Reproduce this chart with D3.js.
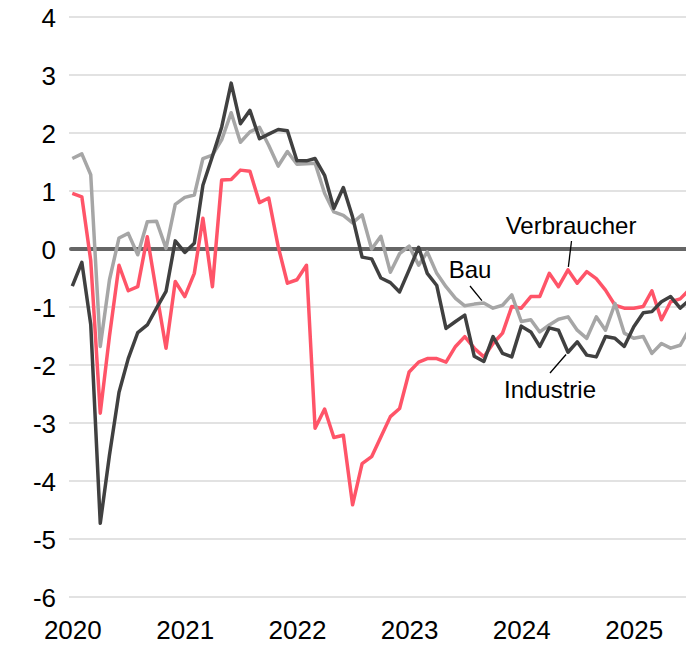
<!DOCTYPE html>
<html>
<head>
<meta charset="utf-8">
<script src="https://cdn.jsdelivr.net/npm/d3@7/dist/d3.min.js"></script>
<style>
  html, body { margin: 0; padding: 0; background: #fff; }
  svg { display: block; }
  text { font-family: "Liberation Sans", Arial, sans-serif; fill: #000; }
</style>
</head>
<body>
<svg id="chart" width="686" height="645"></svg>
<script>
// Monthly data, Jan 2020 – Jul 2025
const startMonth = "2020-01";
const yearTicks = [2020, 2021, 2022, 2023, 2024, 2025];
const yTicks = [-6, -5, -4, -3, -2, -1, 0, 1, 2, 3, 4];

const industrie = [
  -0.64, -0.23, -1.30, -4.73, -3.55, -2.47, -1.89, -1.44, -1.31, -1.02, -0.73, 0.14,
  -0.06, 0.10, 1.10, 1.60, 2.10, 2.86, 2.16, 2.39, 1.90, 1.98, 2.06, 2.04,
  1.52, 1.52, 1.56, 1.27, 0.70, 1.06, 0.55, -0.14, -0.17, -0.50, -0.58, -0.74,
  -0.36, 0.03, -0.42, -0.63, -1.37, -1.25, -1.14, -1.85, -1.94, -1.51, -1.80, -1.86,
  -1.33, -1.43, -1.68, -1.36, -1.40, -1.78, -1.60, -1.83, -1.86, -1.51, -1.54, -1.68,
  -1.34, -1.10, -1.08, -0.91, -0.82, -1.02, -0.88
];
const bau = [
  1.56, 1.64, 1.28, -1.68, -0.53, 0.19, 0.27, -0.10, 0.47, 0.48, 0.01, 0.77,
  0.89, 0.93, 1.56, 1.62, 1.88, 2.35, 1.84, 2.02, 2.10, 1.79, 1.43, 1.68,
  1.46, 1.47, 1.48, 0.96, 0.64, 0.58, 0.45, 0.59, 0.00, 0.22, -0.40, -0.08,
  0.05, -0.28, -0.05, -0.42, -0.65, -0.85, -0.98, -0.95, -0.93, -1.02, -0.97, -0.79,
  -1.25, -1.22, -1.43, -1.31, -1.21, -1.17, -1.40, -1.54, -1.17, -1.40, -0.94, -1.45,
  -1.54, -1.51, -1.80, -1.63, -1.71, -1.66, -1.38
];
const verbraucher = [
  0.96, 0.90, -0.20, -2.83, -1.50, -0.28, -0.72, -0.65, 0.21, -0.75, -1.71, -0.56,
  -0.82, -0.42, 0.53, -0.65, 1.19, 1.20, 1.36, 1.34, 0.80, 0.88, 0.04, -0.59,
  -0.53, -0.28, -3.09, -2.76, -3.25, -3.21, -4.41, -3.70, -3.58, -3.24, -2.89, -2.75,
  -2.12, -1.95, -1.89, -1.89, -1.95, -1.68, -1.51, -1.71, -1.86, -1.63, -1.45, -0.99,
  -1.02, -0.82, -0.82, -0.42, -0.65, -0.36, -0.59, -0.39, -0.51, -0.71, -0.97, -1.02,
  -1.02, -0.99, -0.72, -1.22, -0.91, -0.86, -0.70
];

const seriesNames = ["Verbraucher", "Bau", "Industrie"];
const seriesColors = { Industrie: "#404040", Bau: "#a6a6a6", Verbraucher: "#ff5468" };

const parse = d3.timeParse("%Y-%m");
const t0 = parse(startMonth);
const months = industrie.map((_, i) => d3.timeMonth.offset(t0, i));

const svg = d3.select("#chart");

const x = d3.scaleTime()
  .domain([t0, months[months.length - 1]])
  .range([72.3, 72.3 + 9.35 * (months.length - 1)]);
const y = d3.scaleLinear().domain([-6, 4]).range([597, 17]);

// gridlines
svg.append("g").selectAll("line").data(yTicks.filter(d => d !== 0)).join("line")
  .attr("x1", 69).attr("x2", 686)
  .attr("y1", d => y(d)).attr("y2", d => y(d))
  .attr("stroke", "#d9d9d9").attr("stroke-width", 1.5);

// y axis labels
const yAxis = d3.axisLeft(y).tickValues(yTicks).tickSize(0).tickPadding(0).tickFormat(d => String(d));
const gy = svg.append("g").attr("transform", "translate(56,0)").call(yAxis);
gy.select(".domain").remove();
gy.selectAll("text").attr("font-size", 26).attr("font-family", "Liberation Sans, Arial, sans-serif").attr("fill", "#000").attr("dy", "0.36em");

// x axis labels
const xAxis = d3.axisBottom(x)
  .tickValues(yearTicks.map(yr => new Date(yr, 0, 1)))
  .tickSize(0).tickPadding(0).tickFormat(d3.timeFormat("%Y"));
const gx = svg.append("g").attr("transform", "translate(0,639)").call(xAxis);
gx.select(".domain").remove();
gx.selectAll("text").attr("font-size", 26).attr("font-family", "Liberation Sans, Arial, sans-serif").attr("fill", "#000").attr("y", 0).attr("dy", 0);

// zero line
svg.append("line")
  .attr("x1", 71).attr("x2", 686)
  .attr("y1", y(0)).attr("y2", y(0))
  .attr("stroke", "#666666").attr("stroke-width", 4).attr("stroke-linecap", "round");

// series
const data = { Industrie: industrie, Bau: bau, Verbraucher: verbraucher };
const line = d3.line().x((d, i) => x(months[i])).y(d => y(d)).curve(d3.curveLinear);
svg.append("g").selectAll("path").data(seriesNames).join("path")
  .attr("d", n => line(data[n]))
  .attr("fill", "none")
  .attr("stroke", n => seriesColors[n])
  .attr("stroke-width", 3.5)
  .attr("stroke-linejoin", "round");

// annotations
const notes = [
  { label: "Verbraucher", tx: 571, ty: 234, lx1: 571.5, ly1: 241, idx: 53, s: "Verbraucher" },
  { label: "Bau", tx: 470, ty: 278, lx1: 470, ly1: 286, idx: 44, s: "Bau" },
  { label: "Industrie", tx: 550, ty: 398, lx1: 550, ly1: 373, idx: 53, s: "Industrie" }
];
const ann = svg.append("g");
notes.forEach(n => {
  const px = x(months[n.idx]);
  const py = y(data[n.s][n.idx]);
  const dx = px - n.lx1, dy = py - n.ly1;
  const len = Math.hypot(dx, dy);
  ann.append("line")
    .attr("x1", n.lx1).attr("y1", n.ly1)
    .attr("x2", n.lx1 + dx * (len - 3) / len).attr("y2", n.ly1 + dy * (len - 3) / len)
    .attr("stroke", "#000").attr("stroke-width", 1.3);
  ann.append("text").attr("x", n.tx).attr("y", n.ty)
    .attr("text-anchor", "middle").attr("font-size", 24).text(n.label);
});
</script>
</body>
</html>
